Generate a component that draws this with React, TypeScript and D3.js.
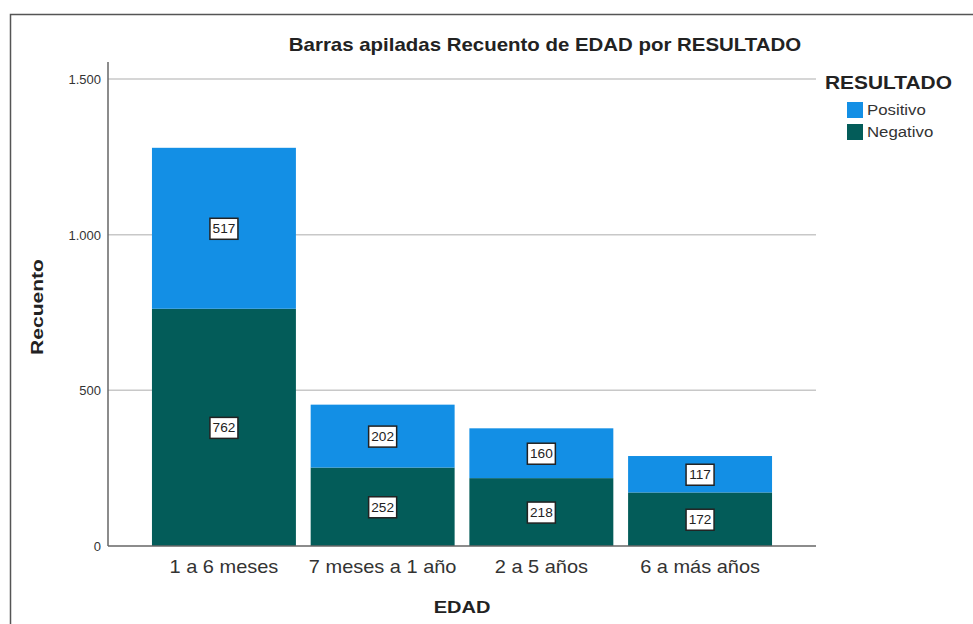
import React, { useEffect, useRef } from "react";
import * as d3 from "d3";

const categories = ["1 a 6 meses", "7 meses a 1 año", "2 a 5 años", "6 a más años"];
const negativo = [762, 252, 218, 172];
const positivo = [517, 202, 160, 117];
const yTicks = [0, 500, 1000, 1500];
const tickLabels = ["0", "500", "1.000", "1.500"];
const seriesNames = ["Positivo", "Negativo"];
const seriesColors = ["#138FE5", "#035C59"];

const W = 973, H = 624;
const font = "Liberation Sans, Arial, sans-serif";

// text with a slight horizontal stretch, as in the reference image
const txt = (parent: any, x: number, y: number, s: string, size: number, sx: number,
    opts: { bold?: boolean; anchor?: string; rotate?: number; fill?: string } = {}) => {
    const g = parent.append("g")
        .attr("transform", `translate(${x},${y})${opts.rotate ? ` rotate(${opts.rotate})` : ""} scale(${sx},1)`);
    g.append("text")
        .attr("text-anchor", opts.anchor || "start")
        .attr("font-family", font)
        .attr("font-size", size)
        .attr("font-weight", opts.bold ? "bold" : "normal")
        .attr("fill", opts.fill || "#222")
        .text(s);
    return g;
};

const App = () => {
    const svgRef = useRef<SVGSVGElement>(null);

    useEffect(() => {
        const svg = d3.select(svgRef.current);
        svg.selectAll("*").remove();

        const left = 108, right = 816, top = 79, bottom = 546;

        // outer frame
        svg.append("rect")
            .attr("x", 10.5).attr("y", 14.5)
            .attr("width", 1000).attr("height", 700)
            .attr("fill", "#fff")
            .attr("stroke", "#555").attr("stroke-width", 1.5);

        const x = d3.scaleBand()
            .domain(categories)
            .range([left, right])
            .paddingInner(0.093)
            .paddingOuter(0.277);

        const y = d3.scaleLinear()
            .domain([0, 1500])
            .range([bottom, top]);

        // gridlines
        svg.append("g")
            .selectAll("line")
            .data(yTicks.filter(d => d > 0))
            .join("line")
            .attr("x1", left).attr("x2", right)
            .attr("y1", d => y(d)).attr("y2", d => y(d))
            .attr("stroke", "#c8c8c8").attr("stroke-width", 1.5);

        // stacked bars
        const rows = categories.map((c, i) => ({ cat: c, Negativo: negativo[i], Positivo: positivo[i] }));
        const stack = d3.stack<any>().keys(["Negativo", "Positivo"])(rows);
        const color = d3.scaleOrdinal<string>().domain(seriesNames).range(seriesColors);

        stack.forEach(layer => {
            const g = svg.append("g");
            g.selectAll("rect")
                .data(layer)
                .join("rect")
                .attr("x", d => x(d.data.cat)!)
                .attr("width", x.bandwidth())
                .attr("y", d => y(d[1]))
                .attr("height", d => y(d[0]) - y(d[1]))
                .attr("fill", color(layer.key));
        });

        stack.forEach(layer => {
            layer.forEach(d => {
                const cx = x(d.data.cat)! + x.bandwidth() / 2;
                const cy = (y(d[0]) + y(d[1])) / 2;
                svg.append("rect")
                    .attr("x", cx - 14).attr("y", cy - 10)
                    .attr("width", 28).attr("height", 21)
                    .attr("fill", "#fff")
                    .attr("stroke", "#222").attr("stroke-width", 1.5);
                txt(svg, cx, cy + 5, String(d[1] - d[0]), 13, 1.05, { anchor: "middle" });
            });
        });

        // axes lines
        svg.append("line")
            .attr("x1", left).attr("x2", left)
            .attr("y1", 62).attr("y2", bottom)
            .attr("stroke", "#666").attr("stroke-width", 1.5);
        svg.append("line")
            .attr("x1", left).attr("x2", right)
            .attr("y1", bottom).attr("y2", bottom)
            .attr("stroke", "#666").attr("stroke-width", 1.5);

        // y tick labels
        yTicks.forEach((t, i) => {
            txt(svg, 101, y(t) + 5, tickLabels[i], 13, 1, { anchor: "end", fill: "#333" });
        });

        // x tick labels
        categories.forEach(c => {
            txt(svg, x(c)! + x.bandwidth() / 2, 573, c, 18, 1.11, { anchor: "middle", fill: "#333" });
        });

        // titles
        txt(svg, 545, 51, "Barras apiladas Recuento de EDAD por RESULTADO", 18, 1.135, { bold: true, anchor: "middle" });
        txt(svg, 462, 613, "EDAD", 16, 1.25, { bold: true, anchor: "middle" });
        txt(svg, 43, 307, "Recuento", 17, 1.24, { bold: true, anchor: "middle", rotate: -90 });

        // legend
        txt(svg, 825, 89, "RESULTADO", 19, 1.1, { bold: true });

        seriesNames.forEach((s, i) => {
            const gy = 102 + i * 22;
            svg.append("rect")
                .attr("x", 847).attr("y", gy)
                .attr("width", 16).attr("height", 16)
                .attr("fill", color(s));
            txt(svg, 867, gy + 13, s, 15, 1.12, { fill: "#333" });
        });
    }, []);

    return (
        <svg ref={svgRef} width={W} height={H}
            style={{ position: "absolute", left: 0, top: 0, background: "#fff" }}></svg>
    );
};

export default App;
